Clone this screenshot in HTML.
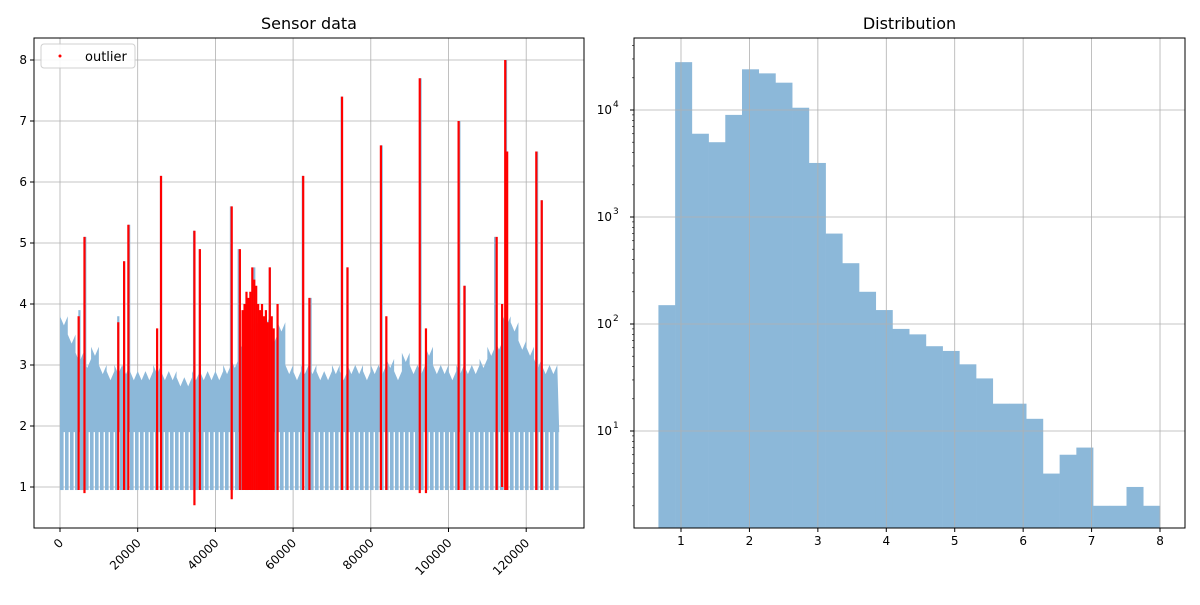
<!DOCTYPE html>
<html><head><meta charset="utf-8"><style>
body{margin:0;background:#fff;font-family:"Liberation Sans","DejaVu Sans",sans-serif}
svg text{font-family:"DejaVu Sans","Liberation Sans",sans-serif;fill:#000}
</style></head><body>
<svg id="c" width="1200" height="600" xmlns="http://www.w3.org/2000/svg">
<defs>
<pattern id="teeth" x="0" width="5" height="10" patternUnits="userSpaceOnUse"><rect width="3.6" height="10" fill="#8cb8d9"/></pattern>
</defs>
</svg>
<script>
// ---- left chart data ----
const binStart = [0,2000,4000,6000,8000,10000,12000,14000,16000,18000,20000,22000,24000,26000,28000,30000,32000,34000,36000,38000,40000,42000,44000,46000,48000,50000,52000,54000,56000,58000,60000,62000,64000,66000,68000,70000,72000,74000,76000,78000,80000,82000,84000,86000,88000,90000,92000,94000,96000,98000,100000,102000,104000,106000,108000,110000,112000,114000,116000,118000,120000,122000,124000,126000];
const bandTop = [3.8,3.5,3.2,3.1,3.3,3.0,2.9,3.0,3.0,2.9,2.9,2.9,3.0,2.9,2.9,2.8,2.8,2.9,2.9,2.9,2.9,3.0,3.1,3.4,3.7,3.8,3.8,3.5,3.7,3.0,2.9,3.0,3.0,2.9,2.9,3.0,2.9,3.0,3.0,2.9,3.0,3.0,3.1,2.9,3.2,3.0,3.0,3.3,3.0,3.0,2.9,3.0,3.0,3.0,3.1,3.3,3.4,3.8,3.7,3.4,3.3,3.1,3.0,3.0];
const spikeX = [5000,6500,15000,16500,17800,26000,34500,36000,44000,46000,50000,54000,62500,64500,72500,74000,82800,92800,102800,104200,112000,114800,122800,124000];
const spikeY = [3.9,5.1,3.8,4.7,5.3,6.1,5.2,4.9,5.6,4.9,4.6,4.6,6.1,4.1,7.4,4.6,6.6,7.7,7.0,4.3,5.1,8.0,6.5,5.7];
const outX = [4800,6300,15000,16500,17600,25000,26000,34600,36000,44200,46300,47000,47500,48000,48500,49000,49500,50000,50500,51000,51500,52000,52500,53000,53500,54000,54500,55000,56000,62600,64200,72600,74000,82600,84000,92600,94200,102600,104100,112400,113800,114600,115100,122600,124000];
const outLo = [0.95,0.9,0.95,0.95,0.95,0.95,0.95,0.7,0.95,0.8,0.95,0.95,0.95,0.95,0.95,0.95,0.95,0.95,0.95,0.95,0.95,0.95,0.95,0.95,0.95,0.95,0.95,0.95,0.95,0.95,0.95,0.95,0.95,0.95,0.95,0.9,0.9,0.95,0.95,0.95,1.0,0.95,0.95,0.95,0.95];
const outHi = [3.8,5.1,3.7,4.7,5.3,3.6,6.1,5.2,4.9,5.6,4.9,3.9,4.0,4.2,4.1,4.2,4.6,4.4,4.3,4.0,3.9,4.0,3.8,3.9,3.7,4.6,3.8,3.6,4.0,6.1,4.1,7.4,4.6,6.6,3.8,7.7,3.6,7.0,4.3,5.1,4.0,8.0,6.5,6.5,5.7];
const xTicksL = [0,20000,40000,60000,80000,100000,120000];
const yTicksL = [1,2,3,4,5,6,7,8];
// ---- right chart data ----
const binLeft = 0.67, binWidth = 0.2443;
const counts = [150,28000,6000,5000,9000,24000,22000,18000,10500,3200,700,370,200,135,90,80,62,56,42,31,18,18,13,4,6,7,2,2,3,2];
const xTicksR = [1,2,3,4,5,6,7,8];
const yTicksR = [1,2,3,4];

const svg = document.getElementById('c');
const NS = 'http://www.w3.org/2000/svg';
function mk(tag, attrs, parent){const e=document.createElementNS(NS,tag);for(const k in attrs)e.setAttribute(k,attrs[k]);(parent||svg).appendChild(e);return e;}

// left axes
const L={x0:34,x1:584,y0:38,y1:528};
const lx=v=>60+v*77.7/20000, ly=v=>487-(v-1)*61;
const gL=mk('g',{});


mk('rect',{x:L.x0,y:L.y0,width:L.x1-L.x0,height:L.y1-L.y0,fill:'#fff'},gL);
xTicksL.forEach(v=>{const l=mk('line',{x1:lx(v),x2:lx(v),y1:L.y0,y2:L.y1,stroke:'#b0b0b0','stroke-width':0.8},gL);});
yTicksL.forEach(v=>{const l=mk('line',{x1:L.x0,x2:L.x1,y1:ly(v),y2:ly(v),stroke:'#b0b0b0','stroke-width':0.8},gL);});
const teeth=mk('rect',{x:lx(0),y:ly(2.1),width:lx(128500)-lx(0),height:ly(0.95)-ly(2.1),fill:'url(#teeth)'},gL);


let pts=[];
binStart.forEach((b,i)=>{pts.push(lx(b)+','+ly(bandTop[i]));pts.push(lx(b+1000)+','+ly(bandTop[i]-0.15));pts.push(lx(b+2000)+','+ly(bandTop[i]));});
pts.push(lx(128500)+','+ly(1.9));pts.push(lx(0)+','+ly(1.9));
const band=mk('polygon',{points:pts.join(' '),fill:'#8cb8d9'},gL);


spikeX.forEach((x,i)=>{const s=mk('line',{x1:lx(x),x2:lx(x),y1:ly(2.5),y2:ly(spikeY[i]),stroke:'#8cb8d9','stroke-width':2.2},gL);});
outX.forEach((x,i)=>{const o=mk('line',{x1:lx(x),x2:lx(x),y1:ly(outLo[i]),y2:ly(outHi[i]),stroke:'#ff0000','stroke-width':2.2},gL);});
mk('rect',{x:L.x0,y:L.y0,width:L.x1-L.x0,height:L.y1-L.y0,fill:'none',stroke:'#000','stroke-width':1},gL);
xTicksL.forEach(v=>{mk('line',{x1:lx(v),x2:lx(v),y1:L.y1,y2:L.y1+4,stroke:'#000'},gL);const t=mk('text',{x:lx(v),y:L.y1+14,'font-size':12,'text-anchor':'end',transform:`rotate(-45 ${lx(v)+4} ${L.y1+10})`},gL);t.textContent=v;});
yTicksL.forEach(v=>{mk('line',{x1:L.x0-4,x2:L.x0,y1:ly(v),y2:ly(v),stroke:'#000'},gL);const t=mk('text',{x:L.x0-7,y:ly(v)+4,'font-size':12,'text-anchor':'end'},gL);t.textContent=v;});
const tl=mk('text',{x:(L.x0+L.x1)/2,y:29,'font-size':16,'text-anchor':'middle'},gL);tl.textContent='Sensor data';


const lg=mk('g',{},gL);


mk('rect',{x:41,y:44,width:94,height:24,rx:3,fill:'#fff',stroke:'#ccc',opacity:0.9},lg);
mk('circle',{cx:60,cy:56,r:1.5,fill:'#f00'},lg);
const lt=mk('text',{x:85,y:61,'font-size':13},lg);lt.textContent='outlier';

// right axes
const R={x0:634,x1:1185,y0:38,y1:528};
const rx=v=>681+(v-1)*68.43, ry=v=>431-(Math.log10(v)-1)*107;
const gR=mk('g',{});


counts.forEach((c,i)=>{const x0=rx(binLeft+i*binWidth),x1=rx(binLeft+(i+1)*binWidth);const b=mk('rect',{x:x0,y:ry(c),width:x1-x0+0.3,height:R.y1-ry(c),fill:'#8cb8d9'},gR);});
xTicksR.forEach(v=>{const l=mk('line',{x1:rx(v),x2:rx(v),y1:R.y0,y2:R.y1,stroke:'#b0b0b0','stroke-width':0.8},gR);});
yTicksR.forEach(e=>{const l=mk('line',{x1:R.x0,x2:R.x1,y1:ry(10**e),y2:ry(10**e),stroke:'#b0b0b0','stroke-width':0.8},gR);});
mk('rect',{x:R.x0,y:R.y0,width:R.x1-R.x0,height:R.y1-R.y0,fill:'none',stroke:'#000'},gR);
xTicksR.forEach(v=>{mk('line',{x1:rx(v),x2:rx(v),y1:R.y1,y2:R.y1+4,stroke:'#000'},gR);const t=mk('text',{x:rx(v),y:R.y1+17,'font-size':12,'text-anchor':'middle'},gR);t.textContent=v;});
yTicksR.forEach(e=>{mk('line',{x1:R.x0-4,x2:R.x0,y1:ry(10**e),y2:ry(10**e),stroke:'#000'},gR);const t=mk('text',{x:R.x0-22,y:ry(10**e)+4,'font-size':12,'text-anchor':'end'},gR);t.textContent='10';const s=mk('text',{x:R.x0-21,y:ry(10**e)-3,'font-size':9},gR);s.textContent=e;});
for(let e=0;e<5;e++)for(let m=2;m<10;m++){const v=m*10**e,y=ry(v);if(y>R.y0&&y<R.y1)mk('line',{x1:R.x0-2,x2:R.x0,y1:y,y2:y,stroke:'#000','stroke-width':0.6},gR);}
const tr=mk('text',{x:(R.x0+R.x1)/2,y:29,'font-size':16,'text-anchor':'middle'},gR);tr.textContent='Distribution';


</script>
</body></html>
